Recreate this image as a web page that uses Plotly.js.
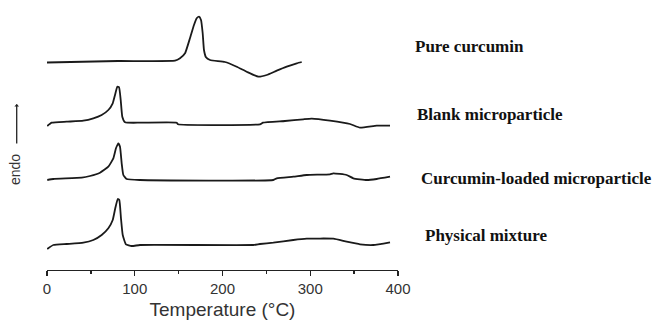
<!DOCTYPE html>
<html>
<head>
<meta charset="utf-8">
<script src="https://cdn.plot.ly/plotly-3.0.1.min.js"></script>
<style>html,body{margin:0;padding:0;background:#fff;}#chart{width:655px;height:323px;}</style>
</head>
<body>
<div id="chart"></div>
<script>
// Sample names (curve labels)
const sampleNames = ["Pure curcumin", "Blank microparticle", "Curcumin-loaded microparticle", "Physical mixture"];

// DSC traces (temperature in °C, heat flow in arbitrary stacked units, endo up)
const tPure = [0, 80.9, 145.9, 151.6, 157.3, 163, 167.5, 170.6, 173.2, 175.5, 177.4, 178.9, 181.2, 185.8, 202.8, 216.2, 227.6, 240.8, 250.4, 261.8, 273.2, 284.6, 290.3];
const hPure = [207.5, 209, 209.3, 211.7, 216.7, 232, 245, 251.7, 253.3, 250, 237, 220, 212.7, 210, 208, 203.3, 198.3, 193.3, 195, 199.3, 203.3, 206.7, 208];

const tBlank = [0.3, 5.4, 22.4, 41.4, 52.8, 62.3, 69.9, 74.9, 77.5, 80.1, 82.1, 84, 85.8, 88.9, 106, 147.8, 149.3, 242.7, 246.1, 271.2, 292.1, 301.7, 322.5, 345.3, 356.7, 375.7, 390.9];
const hBlank = [144, 147.3, 148.3, 149.3, 151.7, 155, 160, 166.7, 175, 183.3, 182.7, 170, 153.3, 147.7, 147.3, 147.3, 145.7, 145.7, 147.3, 149, 150.7, 151.3, 149.3, 146, 142.3, 144.3, 144.3];

const tLoaded = [0.3, 7.2, 39.5, 49, 60.4, 69.9, 75.6, 78.6, 81.3, 83.2, 85.1, 87, 90.8, 106, 257.9, 261.8, 280.7, 296, 322.5, 326.3, 341.5, 349.1, 364.3, 375.7, 390.9];
const hLoaded = [90, 91, 92.3, 94, 97.3, 103.3, 111.7, 121.7, 126.7, 123.3, 106.7, 95, 91, 90, 90, 91.7, 93.3, 95, 95.7, 96.7, 95, 91.7, 90, 91, 93.3];

const tMix = [0.3, 7.2, 22.4, 41.4, 52.8, 62.3, 69.9, 74.9, 77.8, 80.6, 82.4, 84.3, 86.3, 90, 96.5, 106, 235.1, 242.7, 257.9, 280.7, 296, 326.3, 341.5, 356.7, 371.8, 390.9];
const hMix = [21, 25, 26, 27.3, 30, 35, 41.7, 50, 61.7, 71, 70, 51.7, 35, 25.7, 24, 25, 25, 26, 27.3, 30, 31.3, 31.3, 28.3, 25.7, 25, 27.7];

// X axis ticks
const xTicks = [0, 100, 200, 300, 400];
const xTickLabels = ["0", "100", "200", "300", "400"];

const lineStyle = {color: "#1a1a1a", width: 1.8, shape: "spline", smoothing: 0.4};
const series = [[tPure, hPure], [tBlank, hBlank], [tLoaded, hLoaded], [tMix, hMix]];
const traces = series.map((s, i) => ({
  x: s[0], y: s[1], type: "scatter", mode: "lines",
  name: sampleNames[i], line: lineStyle, hoverinfo: "x+name"
}));

// Label placement (layout only, paper fractions)
const labelPos = [[1.0427, 0.8577], [1.0484, 0.5962], [1.0598, 0.3538], [1.0712, 0.1308]];
const annotations = sampleNames.map((n, i) => ({
  text: "<b>" + n + "</b>", x: labelPos[i][0], y: labelPos[i][1], xref: "paper", yref: "paper",
  xanchor: "left", yanchor: "middle", showarrow: false,
  font: {family: "Liberation Serif, Times New Roman, serif", size: 17, color: "#111"}
}));
annotations.push({
  text: "endo", xref: "paper", yref: "paper", x: -0.0912, y: 0.388,
  textangle: -90, showarrow: false, xanchor: "center", yanchor: "middle",
  font: {family: "Liberation Sans, Arial, sans-serif", size: 14, color: "#333"}
});
annotations.push({
  text: "", xref: "paper", yref: "paper", x: -0.0863, y: 0.638,
  showarrow: true, axref: "pixel", ayref: "pixel", ax: 0, ay: 41,
  arrowhead: 1, arrowsize: 0.6, arrowwidth: 1.3, arrowcolor: "#222"
});

const layout = {
  width: 655, height: 323,
  margin: {l: 47, r: 257, t: 10, b: 53},
  paper_bgcolor: "#fff", plot_bgcolor: "#fff",
  showlegend: false,
  xaxis: {
    range: [0, 400], tickvals: xTicks, ticktext: xTickLabels,
    showgrid: false, zeroline: false, showline: true, linecolor: "#222", linewidth: 1.3,
    ticks: "outside", ticklen: 5, tickwidth: 1.3, tickcolor: "#222",
    minor: {dtick: 50, tick0: 0, ticks: "outside", ticklen: 3, tickwidth: 1.3, tickcolor: "#222", showgrid: false},
    tickfont: {family: "Liberation Sans, Arial, sans-serif", size: 15, color: "#333"},
    title: {text: "Temperature (°C)", standoff: 6,
            font: {family: "Liberation Sans, Arial, sans-serif", size: 19, color: "#333"}}
  },
  yaxis: {range: [0, 260], visible: false, fixedrange: true},
  annotations: annotations
};

Plotly.newPlot("chart", traces, layout, {displayModeBar: false, staticPlot: true});
</script>
</body>
</html>
